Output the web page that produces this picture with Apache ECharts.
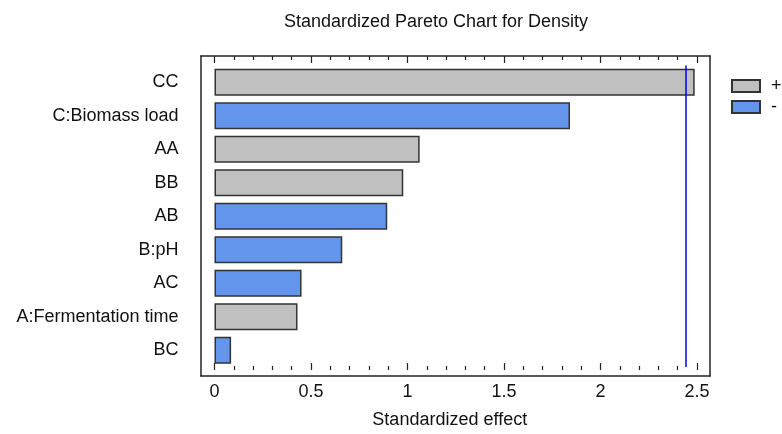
<!DOCTYPE html>
<html>
<head>
<meta charset="utf-8">
<title>Standardized Pareto Chart for Density</title>
<script src="https://cdn.jsdelivr.net/npm/echarts@6/dist/echarts.min.js"></script>
<style>
  html, body { margin: 0; padding: 0; background: #fff; }
  #chart { width: 782px; height: 434px; }
</style>
</head>
<body>
<div id="chart"></div>
<script>
// Effects, ordered from largest to smallest standardized effect
const categories = ['CC', 'C:Biomass load', 'AA', 'BB', 'AB', 'B:pH', 'AC', 'A:Fermentation time', 'BC'];
const effects    = [2.488, 1.842, 1.063, 0.978, 0.895, 0.662, 0.451, 0.430, 0.086];
const signs      = ['+', '-', '+', '+', '-', '-', '-', '+', '-'];
const criticalValue = 2.445;   // significance threshold
const xTicks = [0, 0.5, 1, 1.5, 2, 2.5];

const FONT = "'Liberation Sans', Arial, sans-serif";
const TEXT = '#111';

const positive = effects.map((v, i) => signs[i] === '+' ? v : '-');
const negative = effects.map((v, i) => signs[i] === '-' ? v : '-');

const chart = echarts.init(document.getElementById('chart'), null, { renderer: 'canvas' });

const barStyle = (fill) => ({ color: fill, borderColor: '#333', borderWidth: 1.5 });
const frameLine = { show: true, onZero: false, lineStyle: { color: '#222', width: 1.5 } };
const tickLine = { color: '#222', width: 1.2 };

const option = {
  backgroundColor: '#fff',
  animation: false,
  textStyle: { fontFamily: FONT, color: TEXT },
  title: {
    text: 'Standardized Pareto Chart for Density',
    left: 436, top: 13, textAlign: 'center', padding: 0,
    textStyle: { fontFamily: FONT, fontSize: 18, fontWeight: 'normal', color: TEXT }
  },
  legend: {
    orient: 'vertical', left: 731, top: 77, padding: 0,
    itemWidth: 28, itemHeight: 12, itemGap: 3,
    icon: 'rect',
    data: ['+', '-'],
    textStyle: { fontFamily: FONT, fontSize: 18, color: TEXT, padding: [0, 0, 0, 6] }
  },
  grid: [
    // outer frame
    { left: 201, right: 72, top: 56, bottom: 58 },
    // bar area (category bands)
    { left: 214.5, right: 85, top: 65.5, bottom: 67 },
    // tick axes
    { left: 214.5, right: 85, top: 56, bottom: 58 }
  ],
  xAxis: [
    { gridIndex: 0, type: 'value', min: 0, max: 1, position: 'bottom',
      axisLine: frameLine, axisTick: { show: false }, axisLabel: { show: false }, splitLine: { show: false } },
    { gridIndex: 0, type: 'value', min: 0, max: 1, position: 'top',
      axisLine: frameLine, axisTick: { show: false }, axisLabel: { show: false }, splitLine: { show: false } },
    { gridIndex: 1, type: 'value', min: xTicks[0], max: xTicks[xTicks.length - 1], show: false },
    { gridIndex: 2, type: 'value', min: xTicks[0], max: xTicks[xTicks.length - 1], interval: 0.5,
      position: 'bottom',
      name: 'Standardized effect', nameLocation: 'middle', nameGap: 41,
      nameTextStyle: { fontFamily: FONT, fontSize: 18, color: TEXT, padding: [0, 12, 0, 0] },
      axisLine: { show: false, onZero: false },
      axisTick: { show: true, inside: true, length: 7, lineStyle: tickLine },
      minorTick: { show: true, splitNumber: 5, length: 4, lineStyle: tickLine },
      axisLabel: { show: true, margin: 13, fontFamily: FONT, fontSize: 18, color: TEXT,
        formatter: (v) => String(v) },
      splitLine: { show: false } },
    { gridIndex: 2, type: 'value', min: xTicks[0], max: xTicks[xTicks.length - 1], interval: 0.5,
      position: 'top',
      axisLine: { show: false, onZero: false },
      axisTick: { show: true, inside: true, length: 7, lineStyle: tickLine },
      minorTick: { show: true, splitNumber: 5, length: 4, lineStyle: tickLine },
      axisLabel: { show: false }, splitLine: { show: false } }
  ],
  yAxis: [
    { gridIndex: 0, type: 'value', min: 0, max: 1, position: 'left',
      axisLine: frameLine, axisTick: { show: false }, axisLabel: { show: false }, splitLine: { show: false } },
    { gridIndex: 0, type: 'value', min: 0, max: 1, position: 'right',
      axisLine: frameLine, axisTick: { show: false }, axisLabel: { show: false }, splitLine: { show: false } },
    { gridIndex: 1, type: 'category', data: categories, inverse: true,
      axisLine: { show: false }, axisTick: { show: false },
      axisLabel: { margin: 36, fontFamily: FONT, fontSize: 18, color: TEXT } },
    { gridIndex: 2, type: 'value', show: false }
  ],
  series: [
    {
      name: '+', type: 'bar', xAxisIndex: 2, yAxisIndex: 2,
      data: positive, barWidth: 27, barGap: '-100%',
      itemStyle: barStyle('#c0c0c0'),
      markLine: {
        silent: true, symbol: 'none', label: { show: false },
        lineStyle: { color: '#0000ff', width: 1.5, type: 'solid' },
        data: [{ xAxis: criticalValue }]
      }
    },
    {
      name: '-', type: 'bar', xAxisIndex: 2, yAxisIndex: 2,
      data: negative, barWidth: 27, barGap: '-100%',
      itemStyle: barStyle('#6495ed')
    }
  ]
};

chart.setOption(option);
</script>
</body>
</html>
